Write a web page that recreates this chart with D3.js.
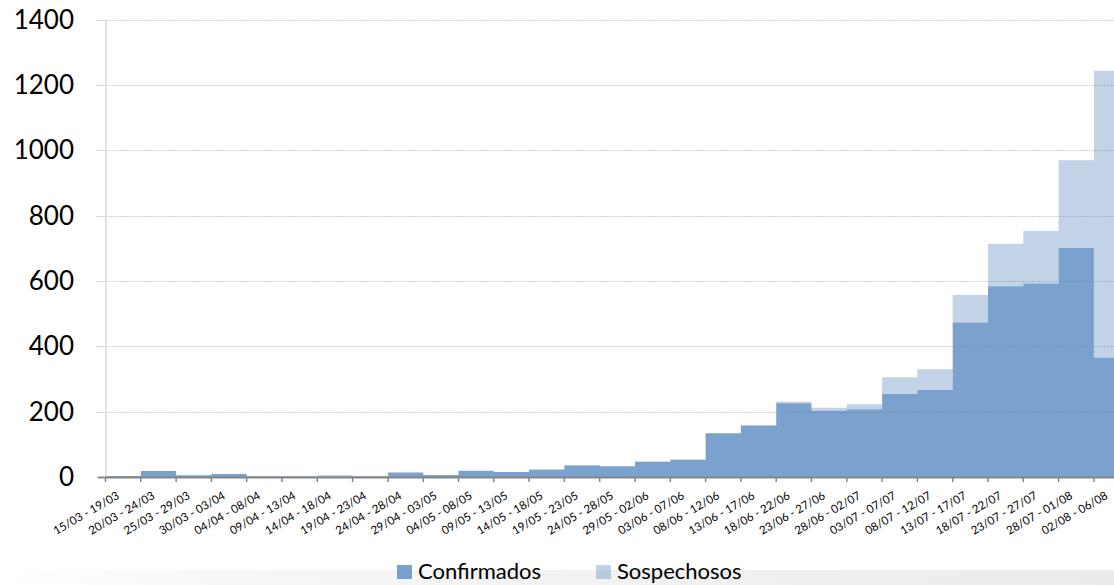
<!DOCTYPE html>
<html>
<head>
<meta charset="utf-8">
<script src="https://cdn.jsdelivr.net/npm/d3@7"></script>
<style>
  body { margin: 0; background: #fff; }
  svg { display: block; font-family: Lato, "Liberation Sans", sans-serif; }
</style>
</head>
<body>
<svg id="chart" width="1114" height="585"></svg>
<script>
// weekly periods (5 days each)
var periods = ["15/03 - 19/03", "20/03 - 24/03", "25/03 - 29/03", "30/03 - 03/04", "04/04 - 08/04",
  "09/04 - 13/04", "14/04 - 18/04", "19/04 - 23/04", "24/04 - 28/04", "29/04 - 03/05",
  "04/05 - 08/05", "09/05 - 13/05", "14/05 - 18/05", "19/05 - 23/05", "24/05 - 28/05",
  "29/05 - 02/06", "03/06 - 07/06", "08/06 - 12/06", "13/06 - 17/06", "18/06 - 22/06",
  "23/06 - 27/06", "28/06 - 02/07", "03/07 - 07/07", "08/07 - 12/07", "13/07 - 17/07",
  "18/07 - 22/07", "23/07 - 27/07", "28/07 - 01/08", "02/08 - 06/08"];

var confirmados = [3, 18, 5, 9, 2, 2, 2, 2, 14, 6, 18, 15, 22, 35, 33, 46, 52, 134, 157, 226,
  203, 207, 254, 266, 473, 584, 592, 701, 365];

var sospechosos = [0, 0, 0, 0, 0, 0, 4, 0, 0, 0, 2, 0, 2, 2, 0, 2, 2, 0, 2, 4,
  9, 16, 51, 64, 84, 130, 161, 268, 878];

var yTicks = [0, 200, 400, 600, 800, 1000, 1200, 1400];

var blue = "#4F81BD";

var svg = d3.select('#chart');

var x = d3.scaleBand()
  .domain(periods)
  .range([105.5, 105.5 + periods.length * 35.3])
  .padding(0);

var y = d3.scaleLinear()
  .domain([0, 1400])
  .range([477, 19.5]);

// light band at the bottom
var grad = svg.append('defs').append('linearGradient')
  .attr('id', 'band')
  .attr('x1', '0%').attr('x2', '100%');
grad.append('stop').attr('offset', '0%').attr('stop-color', '#ffffff');
grad.append('stop').attr('offset', '25%').attr('stop-color', '#f6f6f6');
grad.append('stop').attr('offset', '100%').attr('stop-color', '#ebebeb');

svg.append('rect')
  .attr('x', 0).attr('y', 570)
  .attr('width', 1114).attr('height', 15)
  .attr('fill', 'url(#band)');

// gridlines
svg.append('g')
  .selectAll('line')
  .data(yTicks.slice(1))
  .enter()
  .append('line')
  .attr('x1', 96)
  .attr('x2', 1114)
  .attr('y1', function(d) { return Math.round(y(d)) + 0.5; })
  .attr('y2', function(d) { return Math.round(y(d)) + 0.5; })
  .attr('stroke', '#d0d0d0')
  .attr('stroke-dasharray', '2,1');

// step areas
var rows = periods.map(function(p, i) {
  return { x: x(p), c: confirmados[i], s: confirmados[i] + sospechosos[i] };
});
var last = rows[rows.length - 1];
rows.push({ x: x.range()[1], c: last.c, s: last.s });

var areaConf = d3.area()
  .curve(d3.curveStepAfter)
  .x(function(d) { return d.x; })
  .y0(y(0))
  .y1(function(d) { return y(d.c); });

var areaSosp = d3.area()
  .curve(d3.curveStepAfter)
  .x(function(d) { return d.x; })
  .y0(function(d) { return y(d.c); })
  .y1(function(d) { return y(d.s); });

svg.append('path')
  .datum(rows)
  .attr('d', areaSosp)
  .attr('fill', blue)
  .attr('fill-opacity', 0.35);

svg.append('path')
  .datum(rows)
  .attr('d', areaConf)
  .attr('fill', blue)
  .attr('fill-opacity', 0.75);

// y axis
var yAxis = svg.append('g');
yAxis.append('line')
  .attr('x1', 106).attr('x2', 106)
  .attr('y1', y(1400)).attr('y2', y(0))
  .attr('stroke', '#d9d9d9')
  .attr('stroke-width', 1.5);

yAxis.selectAll('line.tick')
  .data(yTicks)
  .enter()
  .append('line')
  .attr('class', 'tick')
  .attr('x1', 96).attr('x2', 106)
  .attr('y1', function(d) { return Math.round(y(d)) + 0.5; })
  .attr('y2', function(d) { return Math.round(y(d)) + 0.5; })
  .attr('stroke', '#d9d9d9');

yAxis.selectAll('text')
  .data(yTicks)
  .enter()
  .append('text')
  .attr('x', 74)
  .attr('y', function(d) { return y(d); })
  .attr('dy', '0.35em')
  .attr('text-anchor', 'end')
  .attr('font-size', 26)
  .attr('fill', '#000')
  .text(function(d) { return d; });

// x axis
var xAxis = svg.append('g');
xAxis.append('line')
  .attr('x1', 98).attr('x2', 1114)
  .attr('y1', 477.5).attr('y2', 477.5)
  .attr('stroke', '#868686')
  .attr('stroke-width', 2);

xAxis.selectAll('line.tick')
  .data(periods)
  .enter()
  .append('line')
  .attr('class', 'tick')
  .attr('x1', function(d) { return x(d); })
  .attr('x2', function(d) { return x(d); })
  .attr('y1', 477).attr('y2', 482)
  .attr('stroke', '#868686')
  .attr('stroke-width', 1.5);

xAxis.selectAll('text')
  .data(periods)
  .enter()
  .append('text')
  .attr('transform', function(d) {
    return 'translate(' + (x(d) + x.bandwidth() / 2 - 3) + ',498) rotate(-30)';
  })
  .attr('text-anchor', 'end')
  .attr('font-size', 11.5)
  .attr('fill', '#000')
  .text(function(d) { return d; });

// legend
var legend = [
  { name: "Confirmados", op: 0.75, x: 397 },
  { name: "Sospechosos", op: 0.35, x: 596 }
];

var lg = svg.append('g')
  .selectAll('g')
  .data(legend)
  .enter()
  .append('g')
  .attr('transform', function(d) { return 'translate(' + d.x + ',565)'; });

lg.append('rect')
  .attr('width', 15).attr('height', 14)
  .attr('fill', blue)
  .attr('fill-opacity', function(d) { return d.op; });

lg.append('text')
  .attr('x', 21)
  .attr('y', 14)
  .attr('font-size', 22)
  .attr('fill', '#000')
  .text(function(d) { return d.name; });
</script>
</body>
</html>
